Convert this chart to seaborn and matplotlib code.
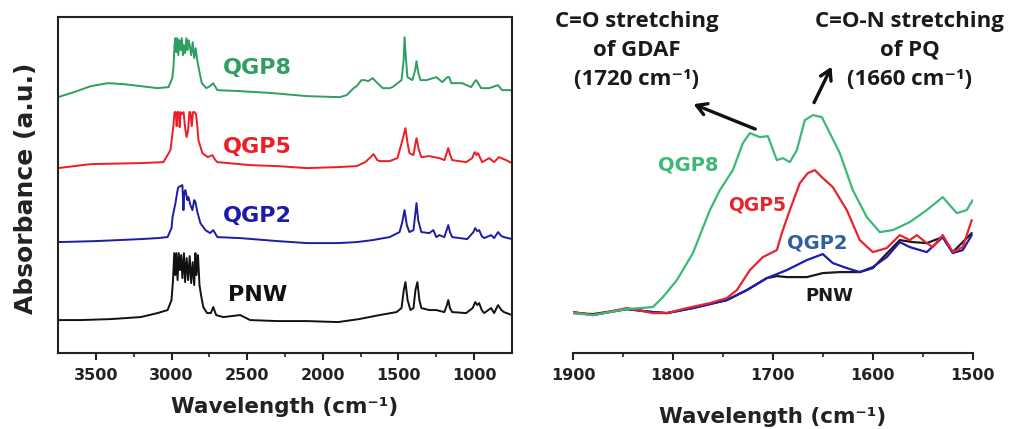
import matplotlib
matplotlib.use("Agg")
import matplotlib.pyplot as plt
import seaborn as sns
import pandas as pd

sns.set_theme(style="white")
plt.rcParams["font.family"] = ["DejaVu Sans"]
plt.rcParams["font.weight"] = "bold"

# ---------------- full-range FTIR spectra (stacked) ----------------
pnw_x = [3750, 3600, 3400, 3204, 3092, 3026, 3000, 2990, 2982, 2975, 2968, 2960, 2952, 2944,
         2936, 2928, 2918, 2910, 2900, 2890, 2880, 2870, 2860, 2850, 2842, 2835, 2825, 2815,
         2805, 2790, 2765, 2740, 2724, 2705, 2658, 2546, 2480, 2300, 2105, 1900, 1760, 1625,
         1513, 1480, 1465, 1454, 1440, 1421, 1401, 1388, 1375, 1362, 1349, 1296, 1250, 1197,
         1180, 1171, 1160, 1145, 1053, 1010, 993, 980, 967, 950, 934, 888, 868, 842, 820, 803, 750]
pnw_y = [0.10, 0.10, 0.11, 0.13, 0.17, 0.20, 0.30, 0.50, 0.77, 0.55, 0.77, 0.50, 0.77, 0.60,
         0.75, 0.52, 0.77, 0.48, 0.72, 0.50, 0.74, 0.47, 0.68, 0.45, 0.77, 0.55, 0.75, 0.45,
         0.35, 0.23, 0.17, 0.17, 0.23, 0.15, 0.13, 0.15, 0.10, 0.09, 0.09, 0.08, 0.11, 0.15,
         0.18, 0.22, 0.40, 0.48, 0.30, 0.20, 0.22, 0.40, 0.48, 0.30, 0.22, 0.20, 0.20, 0.18,
         0.25, 0.30, 0.22, 0.18, 0.17, 0.22, 0.28, 0.25, 0.27, 0.20, 0.17, 0.22, 0.17, 0.25,
         0.20, 0.18, 0.15]

qgp2_x = [3750, 3500, 3204, 3092, 3026, 3000, 2993, 2974, 2960, 2954, 2940, 2928, 2921, 2915,
          2908, 2895, 2888, 2875, 2862, 2850, 2842, 2829, 2809, 2776, 2745, 2724, 2697, 2546,
          2300, 2105, 1900, 1777, 1671, 1559, 1493, 1475, 1460, 1445, 1428, 1401, 1390, 1381,
          1370, 1349, 1296, 1270, 1250, 1230, 1197, 1171, 1160, 1145, 1046, 1005, 993, 980,
          967, 950, 934, 888, 868, 842, 820, 803, 750]
qgp2_y = [0.10, 0.11, 0.13, 0.14, 0.15, 0.24, 0.35, 0.49, 0.62, 0.65, 0.66, 0.67, 0.42, 0.60,
          0.62, 0.52, 0.55, 0.47, 0.42, 0.52, 0.50, 0.40, 0.29, 0.22, 0.19, 0.22, 0.15, 0.14,
          0.11, 0.09, 0.09, 0.10, 0.12, 0.15, 0.20, 0.30, 0.42, 0.27, 0.20, 0.22, 0.37, 0.49,
          0.32, 0.20, 0.19, 0.22, 0.15, 0.17, 0.15, 0.27, 0.20, 0.15, 0.13, 0.20, 0.24, 0.21,
          0.22, 0.16, 0.14, 0.17, 0.14, 0.20, 0.16, 0.15, 0.13]

qgp5_x = [3750, 3533, 3204, 3053, 3007, 2995, 2987, 2980, 2972, 2966, 2960, 2952, 2946, 2940,
          2932, 2920, 2910, 2900, 2890, 2882, 2875, 2866, 2858, 2848, 2838, 2830, 2822, 2796,
          2760, 2730, 2710, 2697, 2480, 2300, 2105, 1900, 1776, 1720, 1691, 1665, 1640, 1625,
          1559, 1507, 1474, 1454, 1440, 1428, 1401, 1390, 1381, 1365, 1349, 1296, 1230, 1197,
          1171, 1158, 1145, 1053, 1013, 1000, 993, 985, 974, 960, 947, 901, 868, 836, 789, 750]
qgp5_y = [0.07, 0.11, 0.12, 0.13, 0.25, 0.40, 0.50, 0.63, 0.63, 0.49, 0.63, 0.63, 0.48, 0.63,
          0.61, 0.63, 0.47, 0.38, 0.45, 0.63, 0.63, 0.49, 0.63, 0.63, 0.61, 0.50, 0.35, 0.22,
          0.18, 0.20, 0.15, 0.13, 0.10, 0.09, 0.07, 0.08, 0.09, 0.13, 0.17, 0.21, 0.15, 0.14,
          0.14, 0.17, 0.35, 0.47, 0.32, 0.22, 0.20, 0.30, 0.37, 0.25, 0.18, 0.19, 0.17, 0.15,
          0.27, 0.20, 0.15, 0.13, 0.17, 0.22, 0.23, 0.20, 0.22, 0.17, 0.13, 0.17, 0.13, 0.18,
          0.15, 0.12]

qgp8_x = [3750, 3645, 3533, 3421, 3316, 3204, 3092, 3020, 2995, 2987, 2980, 2974, 2968, 2962,
          2955, 2948, 2940, 2932, 2925, 2918, 2910, 2902, 2895, 2888, 2880, 2870, 2860, 2850,
          2840, 2830, 2815, 2800, 2770, 2745, 2725, 2697, 2546, 2329, 2105, 1888, 1842, 1797,
          1776, 1745, 1724, 1700, 1671, 1645, 1605, 1559, 1539, 1480, 1466, 1460, 1450, 1441,
          1408, 1390, 1381, 1370, 1355, 1316, 1250, 1210, 1177, 1165, 1151, 1079, 1020, 995,
          987, 970, 954, 901, 842, 816, 750]
qgp8_y = [0.03, 0.08, 0.14, 0.17, 0.16, 0.14, 0.12, 0.13, 0.22, 0.33, 0.55, 0.62, 0.48, 0.62,
          0.45, 0.60, 0.50, 0.62, 0.45, 0.55, 0.47, 0.62, 0.50, 0.60, 0.55, 0.45, 0.58, 0.42,
          0.52, 0.40, 0.28, 0.17, 0.12, 0.14, 0.17, 0.10, 0.09, 0.07, 0.04, 0.03, 0.05, 0.12,
          0.14, 0.20, 0.20, 0.19, 0.22, 0.18, 0.12, 0.12, 0.13, 0.20, 0.40, 0.63, 0.40, 0.23,
          0.20, 0.30, 0.39, 0.28, 0.20, 0.20, 0.23, 0.18, 0.23, 0.23, 0.17, 0.17, 0.13, 0.19,
          0.20, 0.16, 0.12, 0.12, 0.15, 0.10, 0.10]

# vertical offsets used to stack the four spectra
full_names = ["PNW", "QGP2", "QGP5", "QGP8"]
full_offsets = [0.23, 1.01, 1.78, 2.53]

# ---------------- zoomed carbonyl region ----------------
zoom_pnw_x = [1900, 1880, 1846, 1820, 1806, 1780, 1746, 1726, 1706, 1696, 1686, 1666, 1650,
              1633, 1613, 1600, 1573, 1560, 1546, 1530, 1520, 1501]
zoom_pnw_y = [0.40, 0.39, 0.44, 0.41, 0.40, 0.45, 0.53, 0.63, 0.75, 0.77, 0.76, 0.76, 0.80,
              0.81, 0.81, 0.85, 1.13, 1.11, 1.10, 1.16, 1.01, 1.20]

zoom_qgp2_x = [1900, 1880, 1846, 1820, 1806, 1780, 1746, 1726, 1706, 1686, 1666, 1650, 1640,
               1626, 1613, 1600, 1586, 1573, 1563, 1546, 1530, 1520, 1510, 1501]
zoom_qgp2_y = [0.41, 0.38, 0.44, 0.41, 0.40, 0.45, 0.53, 0.63, 0.75, 0.83, 0.93, 0.99, 0.90,
               0.85, 0.81, 0.86, 0.96, 1.11, 1.06, 1.01, 1.16, 1.00, 1.03, 1.18]

zoom_qgp5_x = [1900, 1880, 1846, 1820, 1806, 1786, 1763, 1746, 1736, 1723, 1710, 1696, 1691,
               1683, 1673, 1665, 1658, 1650, 1640, 1626, 1613, 1600, 1586, 1573, 1563, 1556,
               1546, 1540, 1530, 1520, 1510, 1501]
zoom_qgp5_y = [0.41, 0.38, 0.45, 0.40, 0.40, 0.45, 0.50, 0.55, 0.63, 0.83, 0.96, 1.03, 1.20,
               1.43, 1.70, 1.80, 1.83, 1.75, 1.66, 1.43, 1.13, 1.01, 1.05, 1.18, 1.13, 1.18,
               1.10, 1.06, 1.18, 1.01, 1.06, 1.33]

zoom_qgp8_x = [1900, 1880, 1846, 1820, 1810, 1796, 1780, 1763, 1753, 1740, 1730, 1723, 1713,
               1705, 1696, 1690, 1683, 1676, 1668, 1660, 1651, 1643, 1633, 1620, 1606, 1593,
               1580, 1563, 1546, 1530, 1516, 1506, 1500]
zoom_qgp8_y = [0.40, 0.38, 0.44, 0.46, 0.56, 0.73, 1.00, 1.43, 1.63, 1.83, 2.10, 2.20, 2.16,
               2.17, 1.93, 1.95, 1.91, 2.03, 2.33, 2.38, 2.36, 2.20, 2.00, 1.63, 1.36, 1.21,
               1.23, 1.31, 1.43, 1.56, 1.40, 1.43, 1.53]

left_colors = {"PNW": "#111111", "QGP2": "#1c1ca8", "QGP5": "#ee1c24", "QGP8": "#2e9e62"}
right_colors = {"PNW": "#1a1a1a", "QGP2": "#1c1cb0", "QGP5": "#e8242c", "QGP8": "#3cb878"}
right_label_colors = {"PNW": "#1a1a1a", "QGP2": "#2f5f9f", "QGP5": "#e8242c", "QGP8": "#3cb878"}

full_data = {"PNW": (pnw_x, pnw_y), "QGP2": (qgp2_x, qgp2_y),
             "QGP5": (qgp5_x, qgp5_y), "QGP8": (qgp8_x, qgp8_y)}
zoom_data = {"PNW": (zoom_pnw_x, zoom_pnw_y), "QGP2": (zoom_qgp2_x, zoom_qgp2_y),
             "QGP5": (zoom_qgp5_x, zoom_qgp5_y), "QGP8": (zoom_qgp8_x, zoom_qgp8_y)}

AXIS_COLOR = "#222222"
XLABEL = "Wavelength (cm\u207b\u00b9)"

fig = plt.figure(figsize=(10.25, 4.29), dpi=100)
ax1 = fig.add_axes([0.0566, 0.177, 0.4429, 0.783])
ax2 = fig.add_axes([0.559, 0.177, 0.390, 0.783])


def style_bottom_axis(ax, major, minor):
    ax.set_xticks(major)
    ax.set_xticks(minor, minor=True)
    ax.set_yticks([])
    ax.tick_params(axis="x", which="major", direction="out", length=5, width=1.5,
                   bottom=True, labelsize=11.5, pad=6, colors=AXIS_COLOR)
    ax.tick_params(axis="x", which="minor", direction="out", length=3, width=1.2,
                   bottom=True, colors=AXIS_COLOR)


# ---- left: stacked full spectra ----
for name, off in zip(full_names, full_offsets):
    xs, ys = full_data[name]
    df = pd.DataFrame({"wn": xs, "abs": [v + off for v in ys]})
    sns.lineplot(data=df, x="wn", y="abs", ax=ax1, color=left_colors[name],
                 lw=1.4, sort=False, estimator=None)

ax1.set_xlim(3750, 750)
ax1.set_ylim(0, 3.36)
style_bottom_axis(ax1, [3500, 3000, 2500, 2000, 1500, 1000], [3250, 2750, 2250, 1750, 1250])
for sp in ax1.spines.values():
    sp.set_color(AXIS_COLOR)
    sp.set_linewidth(1.5)
ax1.set_xlabel(XLABEL, fontsize=15.5, fontweight="bold", color=AXIS_COLOR, labelpad=10)
ax1.set_ylabel("Absorbance (a.u.)", fontsize=18, fontweight="bold", color=AXIS_COLOR)
ax1.yaxis.set_label_coords(-0.045, 0.49)

left_label_pos = {"QGP8": (2434, 2.85), "QGP5": (2434, 2.06),
                  "QGP2": (2434, 1.37), "PNW": (2428, 0.58)}
for name, (lx, ly) in left_label_pos.items():
    ax1.text(lx, ly, name, color=left_colors[name], fontsize=16, fontweight="bold",
             ha="center", va="center")

# ---- right: carbonyl region ----
for name in full_names:
    xs, ys = zoom_data[name]
    df = pd.DataFrame({"wn": xs, "abs": ys})
    sns.lineplot(data=df, x="wn", y="abs", ax=ax2, color=right_colors[name],
                 lw=1.6, sort=False, estimator=None)

ax2.set_xlim(1900, 1500)
ax2.set_ylim(0, 3.36)
style_bottom_axis(ax2, [1900, 1800, 1700, 1600, 1500], [1850, 1750, 1650, 1550])
for side in ["left", "right", "top"]:
    ax2.spines[side].set_visible(False)
ax2.spines["bottom"].set_color(AXIS_COLOR)
ax2.spines["bottom"].set_linewidth(1.5)
ax2.set_xlabel(XLABEL, fontsize=15.5, fontweight="bold", color=AXIS_COLOR, labelpad=17)
ax2.set_ylabel("")

right_label_pos = {"QGP8": (1785, 1.88), "QGP5": (1716, 1.48),
                   "QGP2": (1656, 1.10), "PNW": (1643, 0.57)}
right_label_size = {"QGP8": 14, "QGP5": 13.5, "QGP2": 14, "PNW": 13}
for name, (lx, ly) in right_label_pos.items():
    ax2.text(lx, ly, name, color=right_label_colors[name], fontsize=right_label_size[name],
             fontweight="bold", ha="center", va="center")

# band assignments with arrows
note_font = ["Open Sans", "DejaVu Sans"]
ax2.text(1836, 3.03, "C=O stretching\nof GDAF\n(1720 cm\u207b\u00b9)", ha="center",
         va="center", fontsize=16, fontweight="bold", family=note_font, color="#1a1a1a",
         linespacing=1.5, clip_on=False)
ax2.text(1563, 3.03, "C=O-N stretching\nof PQ\n(1660 cm\u207b\u00b9)", ha="center",
         va="center", fontsize=16, fontweight="bold", family=note_font, color="#1a1a1a",
         linespacing=1.5, clip_on=False)
arrow_style = dict(arrowstyle="->,head_length=0.6,head_width=0.35", color="#111111", lw=2.4)
ax2.annotate("", xy=(1782, 2.50), xytext=(1715, 2.23), arrowprops=arrow_style,
             annotation_clip=False)
ax2.annotate("", xy=(1640, 2.89), xytext=(1660, 2.48), arrowprops=arrow_style,
             annotation_clip=False)

fig.savefig("out.png", dpi=100, facecolor="white")
